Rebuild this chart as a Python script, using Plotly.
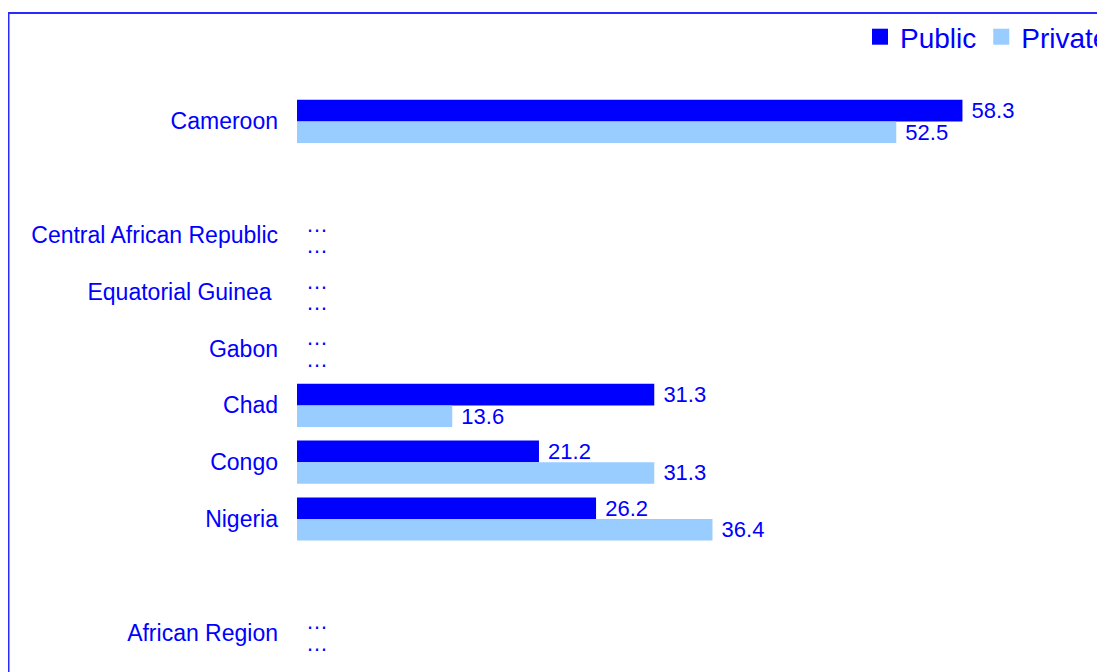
import plotly.graph_objects as go

# ---- data ----
categories = ["Cameroon", " ", "Central African Republic", "Equatorial Guinea\u00a0",
              "Gabon", "Chad", "Congo", "Nigeria", "  ", "African Region"]
is_spacer = [False, True, False, False, False, False, False, False, True, False]
public = [58.3, None, None, None, None, 31.3, 21.2, 26.2, None, None]
private = [52.5, None, None, None, None, 13.6, 31.3, 36.4, None, None]
series_names = ["Public", "Private"]
series_colors = ["#0000FF", "#99CCFF"]

FONT = "Arial, Liberation Sans, sans-serif"
TXT = "#0000FF"


def prep(vals):
    xs, texts = [], []
    for v, sp in zip(vals, is_spacer):
        if v is None:
            xs.append(0)
            texts.append("" if sp else "\u00a0\u2026")
        else:
            xs.append(v)
            texts.append("\u00a0" + f"{v:.1f}")
    return xs, texts


fig = go.Figure()
for name, vals, col in zip(series_names, [public, private], series_colors):
    xs, texts = prep(vals)
    fig.add_trace(go.Bar(
        y=categories, x=xs, name=name, orientation="h",
        marker=dict(color=col, line=dict(width=0)),
        text=texts, textposition="outside", cliponaxis=False,
        constraintext="none",
        textfont=dict(family=FONT, size=22, color=TXT),
        showlegend=False, hoverinfo="skip",
    ))
    # legend entry with larger square symbol
    fig.add_trace(go.Scatter(
        x=[None], y=[None], mode="markers", name=name,
        marker=dict(symbol="square", size=16, color=col),
        showlegend=True,
    ))

# page has an 8px body margin, so the figure is sized to fit inside the window
W, H = 1097, 664
ml, mr, mt, mb = 289, 9, 85, 11
pw, ph = W - ml - mr, H - mt - mb


def px_to_paper_x(px):
    return (px - ml) / pw


def px_to_paper_y(py):
    return (H - mb - py) / ph


fig.update_layout(
    width=W, height=H,
    margin=dict(l=ml, r=mr, t=mt, b=mb, pad=0, autoexpand=False),
    paper_bgcolor="white", plot_bgcolor="white",
    barmode="group", bargap=0.24, bargroupgap=0,
    font=dict(family=FONT, color=TXT),
    xaxis=dict(range=[0, 70], visible=False, showgrid=False, zeroline=False),
    yaxis=dict(type="category", categoryorder="array", categoryarray=categories,
               autorange="reversed", showgrid=False, zeroline=False,
               showline=False, ticks="", ticklabelstandoff=18,
               tickfont=dict(family=FONT, size=23, color=TXT)),
    legend=dict(orientation="h", x=px_to_paper_x(852), xanchor="left",
                y=px_to_paper_y(29), yanchor="middle",
                font=dict(family=FONT, size=28, color=TXT),
                bgcolor="rgba(0,0,0,0)", itemclick=False),
    shapes=[dict(type="rect", xref="paper", yref="paper",
                 x0=px_to_paper_x(0.5), x1=px_to_paper_x(1115),
                 y0=px_to_paper_y(690), y1=px_to_paper_y(5),
                 line=dict(color="#2a2aff", width=2),
                 fillcolor="rgba(0,0,0,0)", layer="above")],
)

fig.write_html("out.html", config={"displayModeBar": False})
